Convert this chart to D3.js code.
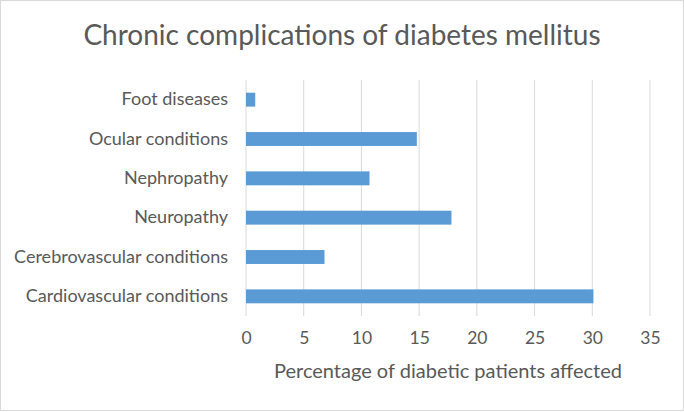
<!DOCTYPE html>
<html><head><meta charset="utf-8">
<script src="https://cdn.jsdelivr.net/npm/d3@7"></script>
<style>body{margin:0;background:#fff}svg{display:block}text{font-family:Lato,"Open Sans",sans-serif;fill:#595959}</style>
</head><body>
<script>
const categories = ["Cardiovascular conditions","Cerebrovascular conditions","Neuropathy","Nephropathy","Ocular conditions","Foot diseases"];
const values = [30.1, 6.8, 17.8, 10.7, 14.8, 0.8];
const xTicks = [0,5,10,15,20,25,30,35];
const title = "Chronic complications of diabetes mellitus";
const xTitle = "Percentage of diabetic patients affected";

const W=684,H=412;
const svg=d3.select("body").append("svg").attr("width",W).attr("height",H);
svg.append("rect").attr("x",0.5).attr("y",0.5).attr("width",W-1).attr("height",H-2).attr("fill","#fff").attr("stroke","#d9d9d9");

const x=d3.scaleLinear().domain([0,35]).range([246,650]);
const y=d3.scaleBand().domain(categories.slice().reverse()).range([80,316]).paddingInner(0.646).paddingOuter(0.323);

svg.append("g").selectAll("line").data(xTicks).join("line")
  .attr("x1",d=>x(d)).attr("x2",d=>x(d)).attr("y1",80).attr("y2",316)
  .attr("stroke","#d9d9d9").attr("stroke-width",1);

svg.append("g").selectAll("rect").data(categories).join("rect")
  .attr("x",x(0)).attr("y",d=>y(d)).attr("height",y.bandwidth())
  .attr("width",(d,i)=>x(values[i])-x(0)).attr("fill","#5b9bd5");

const ax=svg.append("g").attr("transform","translate(0,316)")
  .call(d3.axisBottom(x).tickValues(xTicks).tickSize(0).tickPadding(16));
ax.select(".domain").remove();
ax.selectAll("text").attr("font-size",17.5).attr("fill","#595959").style("font-family","Lato");

const ay=svg.append("g").attr("transform","translate(228,0)")
  .call(d3.axisLeft(y).tickSize(0).tickPadding(0));
ay.select(".domain").remove();
ay.selectAll("text").attr("font-size",18).attr("fill","#595959").style("font-family","Lato");

svg.append("text").attr("x",342).attr("y",45).attr("text-anchor","middle")
  .attr("font-size",28).text(title);
svg.append("text").attr("x",448).attr("y",378).attr("text-anchor","middle")
  .attr("font-size",20).text(xTitle);
</script>
</body></html>
